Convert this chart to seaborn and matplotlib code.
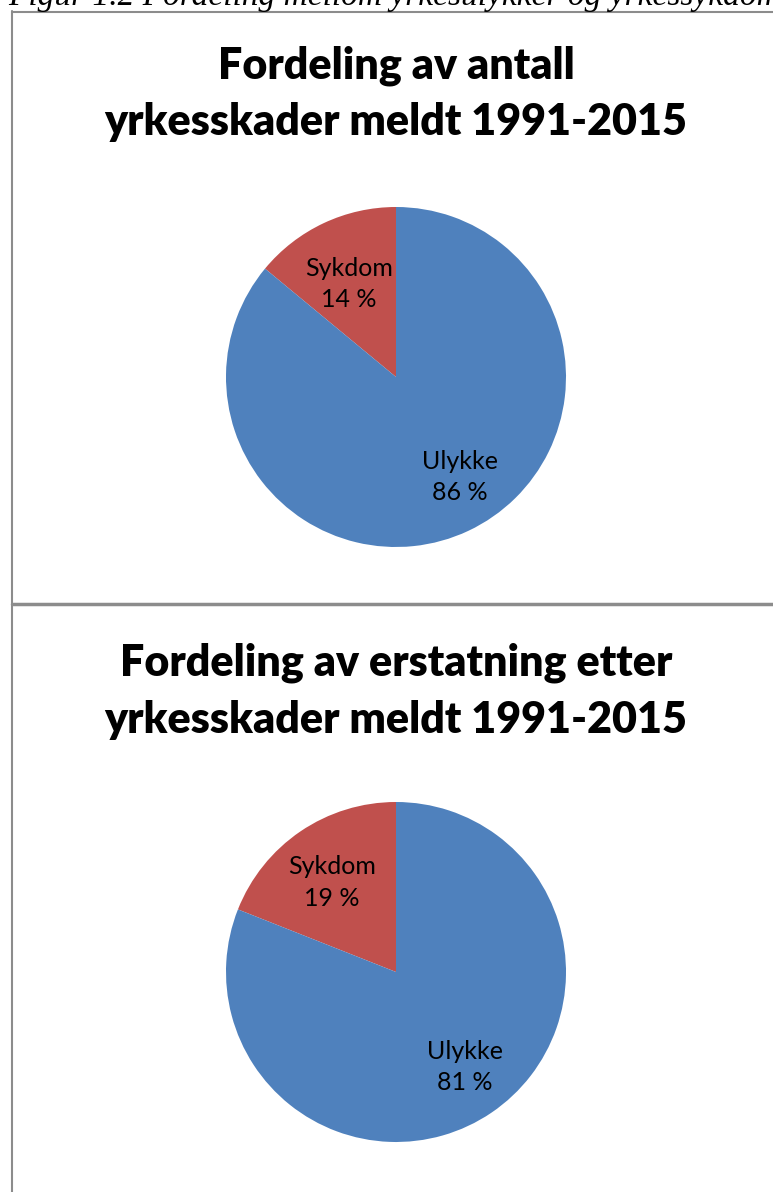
import matplotlib
matplotlib.use("Agg")
import matplotlib.pyplot as plt
import seaborn as sns
from matplotlib.lines import Line2D

sns.set_theme(style="white")
plt.rcParams['font.family'] = ['Lato', 'DejaVu Sans']
plt.rcParams['text.color'] = 'black'

caption = "Figur 1.2 Fordeling mellom yrkesulykker og yrkessykdommer"
categories = ["Sykdom", "Ulykke"]
title_1 = "Fordeling av antall\nyrkesskader meldt 1991-2015"
values_1 = [14, 86]
title_2 = "Fordeling av erstatning etter\nyrkesskader meldt 1991-2015"
values_2 = [19, 81]
colors = ["#C0504D", "#4F81BD"]

W, H = 773, 1192
fig = plt.figure(figsize=(W / 100, H / 100), dpi=100)
fig.patch.set_facecolor("white")


def fx(x):
    return x / W


def fy(y):
    return 1 - y / H


# frame lines
fig.add_artist(Line2D([fx(12), fx(12)], [fy(11), fy(1192)], color="#8c8c8c", lw=1.5))
fig.add_artist(Line2D([fx(12), fx(773)], [fy(11.5), fy(11.5)], color="#8c8c8c", lw=1.5))
fig.add_artist(Line2D([fx(12), fx(773)], [fy(604), fy(604)], color="#8c8c8c", lw=2.5))

fig.text(fx(8), fy(5), caption, family="Liberation Serif", style="italic",
         fontsize=24, ha="left", va="baseline", color="black")


def draw(ax_rect, values, title, title_y, shifts):
    ax = fig.add_axes(ax_rect)

    def fmt(p, _it=iter(range(len(values)))):
        i = next(_it)
        return f"{categories[i]}\n{values[i]} %"

    wedges, texts, autotexts = ax.pie(values, colors=colors, startangle=90,
                                      counterclock=True, autopct=fmt,
                                      pctdistance=0.65, radius=1.0,
                                      wedgeprops=dict(linewidth=0),
                                      textprops=dict(fontsize=18, color="black",
                                                     linespacing=1.45))
    for t, (dx, dy) in zip(autotexts, shifts):
        x, y = t.get_position()
        t.set_position((x + dx, y + dy))
    ax.set_xlim(-1, 1)
    ax.set_ylim(-1, 1)
    ax.set_aspect("equal")
    ax.axis("off")
    fig.text(fx(396), fy(title_y), title, ha="center", va="center", color="black",
             fontsize=31, fontweight="heavy", linespacing=1.5)
    return autotexts


r = 170
draw([fx(396 - r), fy(377 + r), 2 * r / W, 2 * r / H], values_1, title_1, 94,
     [(0.0, -0.04), (0.1, 0.0)])
draw([fx(396 - r), fy(972 + r), 2 * r / W, 2 * r / H], values_2, title_2, 691,
     [(-0.01, -0.01), (0.04, -0.02)])

fig.savefig("out.png", dpi=100, facecolor="white")
